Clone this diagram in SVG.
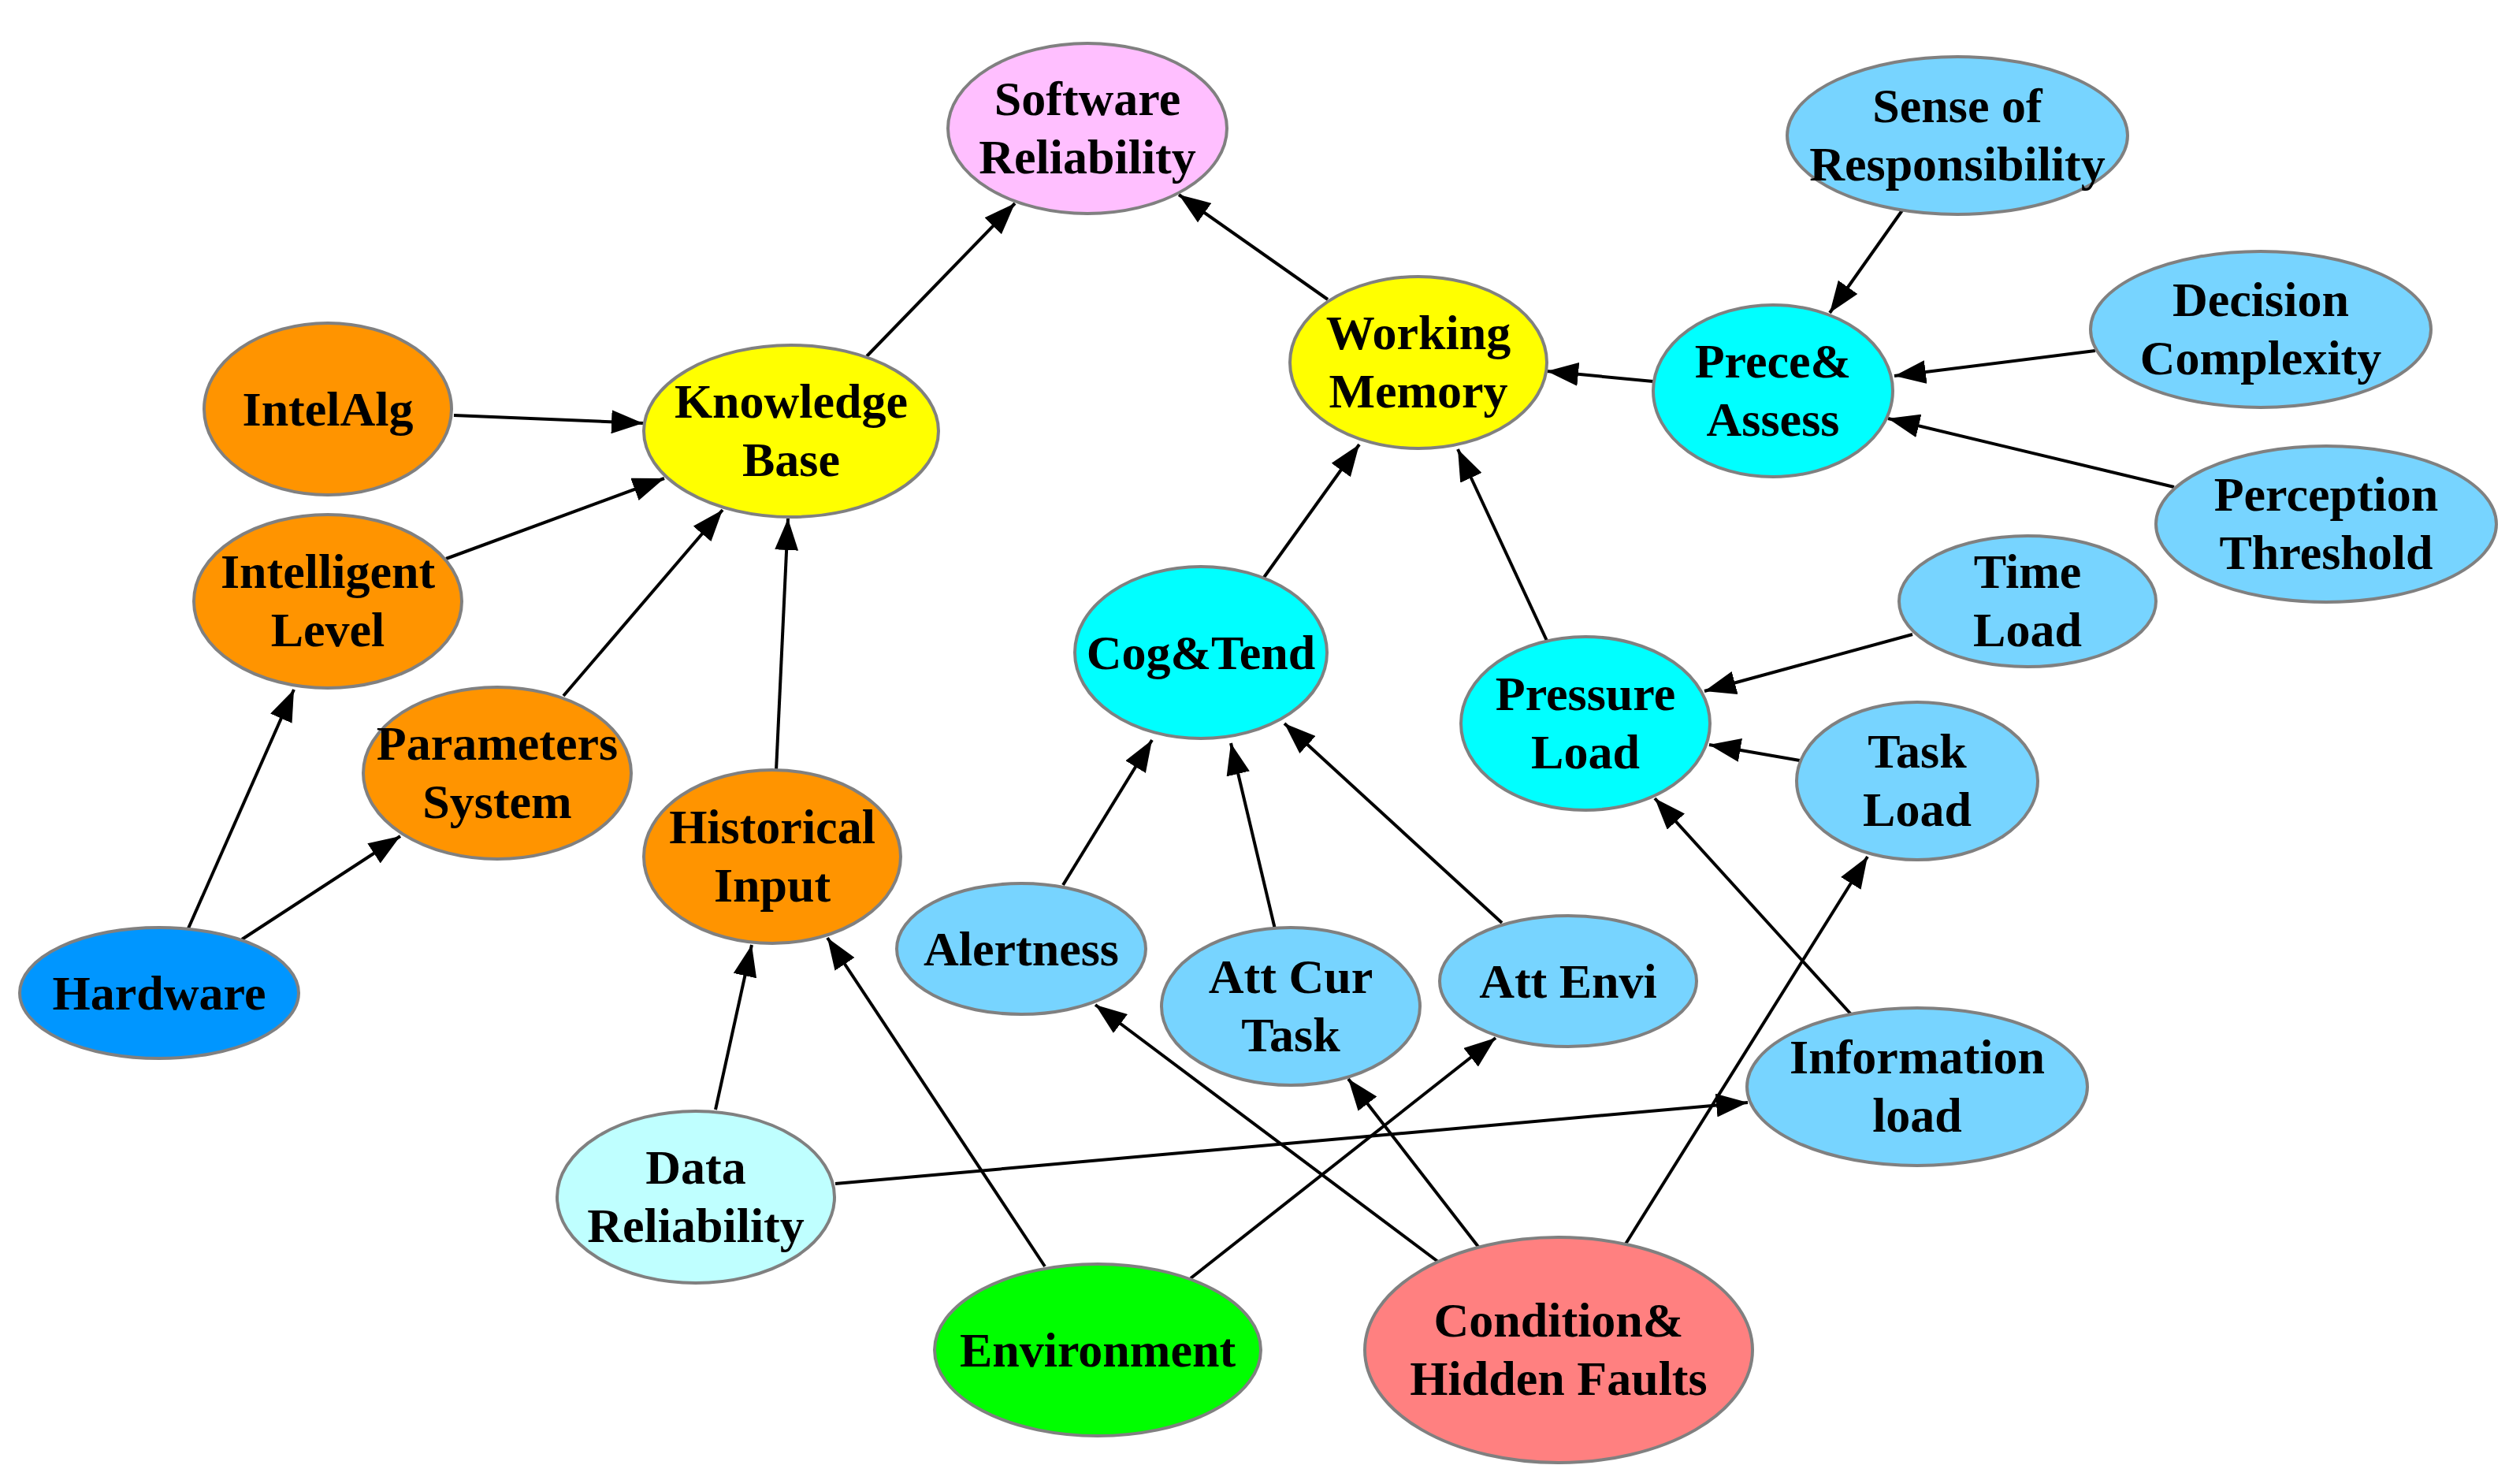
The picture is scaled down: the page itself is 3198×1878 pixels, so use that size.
<svg xmlns="http://www.w3.org/2000/svg" width="3198" height="1878" viewBox="0 0 3198 1878">
<style>
ellipse{stroke:#808080;stroke-width:4}
text{font-family:"Liberation Serif","Times New Roman",serif;font-weight:bold;font-size:62px;text-anchor:middle;fill:#000}
.e line{stroke:#000;stroke-width:4;marker-end:url(#a)}
</style>
<defs><marker id="a" markerUnits="userSpaceOnUse" markerWidth="40" markerHeight="30" refX="40" refY="15" orient="auto"><path d="M0,0 L40,15 L0,30 Z" fill="#000"/></marker></defs>
<rect width="3198" height="1878" fill="#fff"/>
<g class="e" id="edges">
<line x1="1100" y1="452" x2="1288" y2="258"/>
<line x1="1685" y1="380" x2="1496" y2="247"/>
<line x1="576" y1="527" x2="816" y2="537"/>
<line x1="566" y1="709" x2="843" y2="607"/>
<line x1="715" y1="883" x2="917" y2="647"/>
<line x1="985" y1="978" x2="1000" y2="658"/>
<line x1="239" y1="1178" x2="373" y2="875"/>
<line x1="307" y1="1192" x2="508" y2="1061"/>
<line x1="908" y1="1408" x2="954" y2="1199"/>
<line x1="1326" y1="1607" x2="1050" y2="1190"/>
<line x1="1060" y1="1502" x2="2218" y2="1399"/>
<line x1="1511" y1="1622" x2="1898" y2="1317"/>
<line x1="1825" y1="1601" x2="1390" y2="1275"/>
<line x1="1876" y1="1582" x2="1711" y2="1369"/>
<line x1="2062" y1="1580" x2="2370" y2="1087"/>
<line x1="2349" y1="1287" x2="2100" y2="1013"/>
<line x1="1349" y1="1123" x2="1462" y2="939"/>
<line x1="1619" y1="1183" x2="1562" y2="943"/>
<line x1="1906" y1="1171" x2="1630" y2="918"/>
<line x1="1603" y1="734" x2="1725" y2="564"/>
<line x1="1963" y1="813" x2="1850" y2="570"/>
<line x1="2098" y1="484" x2="1963" y2="471"/>
<line x1="2414" y1="267" x2="2322" y2="397"/>
<line x1="2659" y1="445" x2="2404" y2="477"/>
<line x1="2759" y1="618" x2="2396" y2="531"/>
<line x1="2427" y1="805" x2="2163" y2="877"/>
<line x1="2284" y1="965" x2="2169" y2="945"/>
</g>
<g id="sr"><ellipse cx="1380" cy="163" rx="177" ry="108" fill="#ffbfff"/><text x="1380" y="146">Software</text><text x="1380" y="220">Reliability</text></g>
<g id="kb"><ellipse cx="1004" cy="547" rx="187" ry="109" fill="#ffff00"/><text x="1004" y="530">Knowledge</text><text x="1004" y="604">Base</text></g>
<g id="intelalg"><ellipse cx="416" cy="519" rx="157" ry="109" fill="#ff9400"/><text x="416" y="540">IntelAlg</text></g>
<g id="intellevel"><ellipse cx="416" cy="763" rx="170" ry="110" fill="#ff9400"/><text x="416" y="746">Intelligent</text><text x="416" y="820">Level</text></g>
<g id="params"><ellipse cx="631" cy="981" rx="170" ry="109" fill="#ff9400"/><text x="631" y="964">Parameters</text><text x="631" y="1038">System</text></g>
<g id="hist"><ellipse cx="980" cy="1087" rx="163" ry="110" fill="#ff9400"/><text x="980" y="1070">Historical</text><text x="980" y="1144">Input</text></g>
<g id="hardware"><ellipse cx="202" cy="1260" rx="177" ry="83" fill="#0096ff"/><text x="202" y="1281">Hardware</text></g>
<g id="alert"><ellipse cx="1296" cy="1204" rx="158" ry="83" fill="#77d4ff"/><text x="1296" y="1225">Alertness</text></g>
<g id="datarel"><ellipse cx="883" cy="1519" rx="176" ry="109" fill="#bfffff"/><text x="883" y="1502">Data</text><text x="883" y="1576">Reliability</text></g>
<g id="env"><ellipse cx="1393" cy="1713" rx="207" ry="109" fill="#00ff00"/><text x="1393" y="1734">Environment</text></g>
<g id="cog"><ellipse cx="1524" cy="828" rx="160" ry="109" fill="#00ffff"/><text x="1524" y="849">Cog&amp;Tend</text></g>
<g id="wm"><ellipse cx="1800" cy="460" rx="163" ry="109" fill="#ffff00"/><text x="1800" y="443">Working</text><text x="1800" y="517">Memory</text></g>
<g id="prece"><ellipse cx="2250" cy="496" rx="152" ry="109" fill="#00ffff"/><text x="2250" y="479">Prece&amp;</text><text x="2250" y="553">Assess</text></g>
<g id="sense"><ellipse cx="2484" cy="172" rx="216" ry="100" fill="#77d4ff"/><text x="2484" y="155">Sense of</text><text x="2484" y="229">Responsibility</text></g>
<g id="decision"><ellipse cx="2869" cy="418" rx="216" ry="99" fill="#77d4ff"/><text x="2869" y="401">Decision</text><text x="2869" y="475">Complexity</text></g>
<g id="perception"><ellipse cx="2952" cy="665" rx="216" ry="99" fill="#77d4ff"/><text x="2952" y="648">Perception</text><text x="2952" y="722">Threshold</text></g>
<g id="timeload"><ellipse cx="2573" cy="763" rx="163" ry="83" fill="#77d4ff"/><text x="2573" y="746">Time</text><text x="2573" y="820">Load</text></g>
<g id="pressure"><ellipse cx="2012" cy="918" rx="158" ry="110" fill="#00ffff"/><text x="2012" y="901">Pressure</text><text x="2012" y="975">Load</text></g>
<g id="taskload"><ellipse cx="2433" cy="991" rx="153" ry="100" fill="#77d4ff"/><text x="2433" y="974">Task</text><text x="2433" y="1048">Load</text></g>
<g id="attenvi"><ellipse cx="1990" cy="1245" rx="163" ry="83" fill="#77d4ff"/><text x="1990" y="1266">Att Envi</text></g>
<g id="attcur"><ellipse cx="1638" cy="1277" rx="164" ry="100" fill="#77d4ff"/><text x="1638" y="1260">Att Cur</text><text x="1638" y="1334">Task</text></g>
<g id="info"><ellipse cx="2433" cy="1379" rx="216" ry="100" fill="#77d4ff"/><text x="2433" y="1362">Information</text><text x="2433" y="1436">load</text></g>
<g id="cond"><ellipse cx="1978" cy="1713" rx="246" ry="143" fill="#ff8080"/><text x="1978" y="1696">Condition&amp;</text><text x="1978" y="1770">Hidden Faults</text></g>
</svg>
